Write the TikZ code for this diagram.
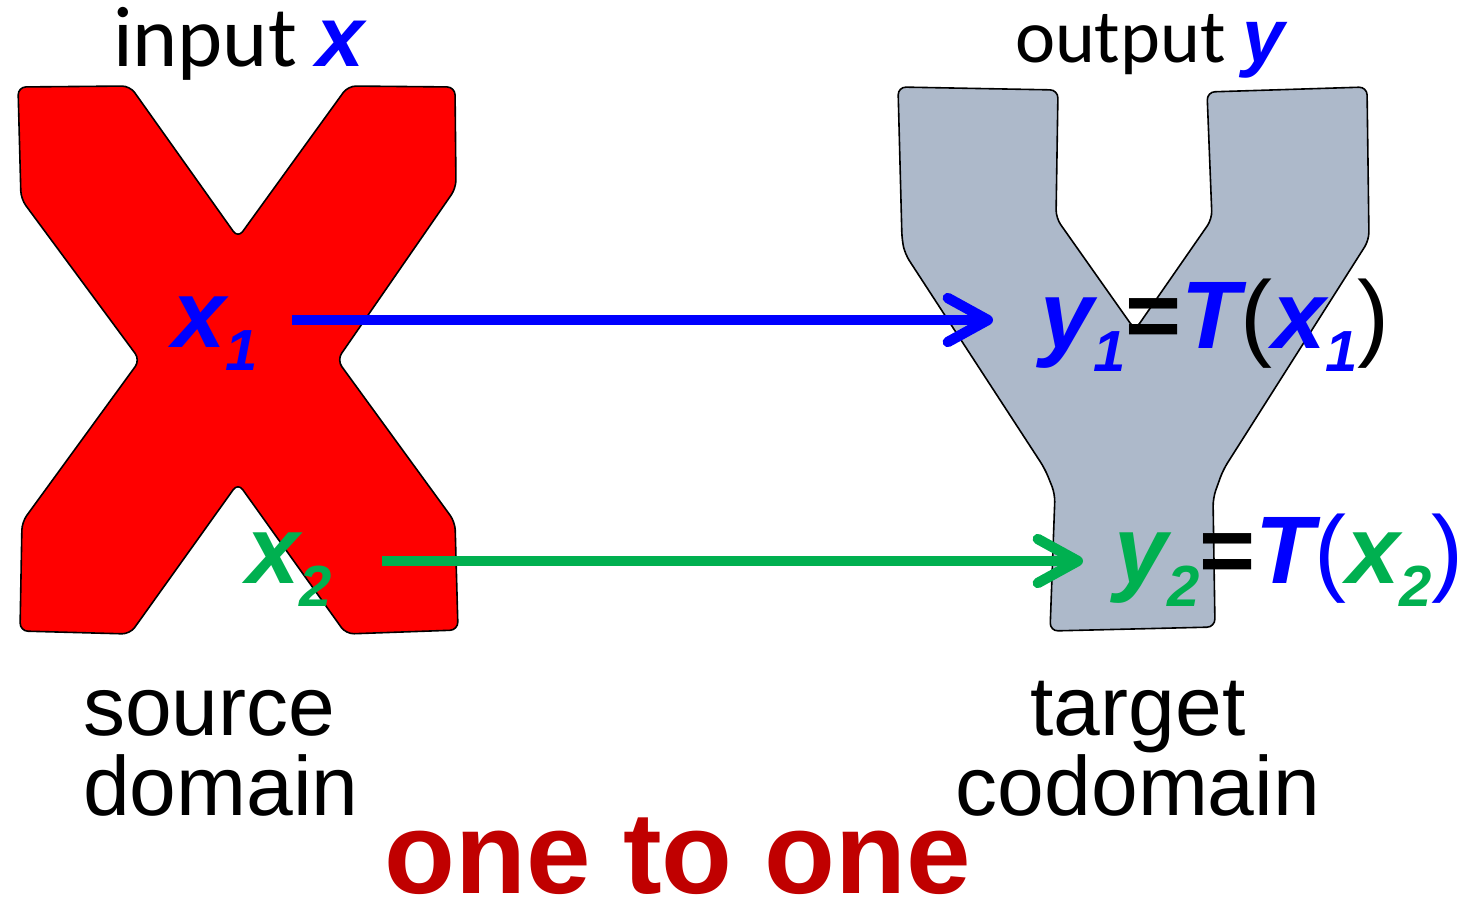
\documentclass[tikz,border=0pt]{standalone}
\usepackage{fontspec}
\setmainfont{Liberation Sans}
\newfontfamily\calfont{Carlito}
\usetikzlibrary{arrows.meta}
\definecolor{sheetred}{HTML}{FF0000}
\definecolor{sheetgrey}{HTML}{ADB9CA}
\definecolor{mapgreen}{HTML}{00B050}
\definecolor{mapblue}{HTML}{0000FF}
\definecolor{titlered}{HTML}{C00000}
% bold italic / regular switches and a lowered index
\newcommand\bi{\bfseries\itshape}
\newcommand\rg{\mdseries\upshape}
\newcommand\lowsub[1]{\raisebox{-11.5pt}{\fontsize{29}{29}\selectfont #1}}
\tikzset{
  blob/.style={draw=black, line width=0.8pt, line join=round, rounded corners=4pt},
  lbl/.style={inner sep=0pt, outer sep=0pt, anchor=base west},
  caption/.style={inner sep=0pt, outer sep=0pt, align=left, font=\fontsize{42}{40}\selectfont},
  maparrow/.style={line width=5.2pt, -{Straight Barb[length=20pt,width=22pt,round]}},
}
\begin{document}
\begin{tikzpicture}[x=0.5pt, y=-0.5pt]
\useasboundingbox (0,0) rectangle (1476,909);

% source shape
\draw[blob, fill=sheetred]
  (18,87) -- (130,86) -- (238,238) -- (348,86) -- (455,87) -- (456,188)
  -- (337,360) -- (455,522) -- (458,630) -- (346,634) -- (238,483)
  -- (130,634) -- (20,631) -- (22,522) -- (140,360) -- (21,199) -- cycle;

% target shape
\draw[blob, fill=sheetgrey]
  (898,87) -- (1058,90) -- (1056,218) -- (1135,330) -- (1212,219)
  -- (1207,92) -- (1367,87) -- (1369,240) -- (1223,470) -- (1213,498)
  -- (1215,627) -- (1050,631) -- (1055,494) -- (1045,469) -- (905,254)
  -- (902,240) -- cycle;

% headings
\node[lbl] (inp) at (113,67) {\fontsize{43}{43}\selectfont\calfont input \normalfont\color{mapblue}\bi x};
\node[lbl] (outp) at (1015,63) {\fontsize{38}{38}\selectfont\calfont output \normalfont\color{mapblue}\bi y};

% points of the source
\node[lbl] (x1) at (172,347) {\fontsize{48}{48}\selectfont\color{mapblue}\bi x\lowsub{1}};
\node[lbl] (x2) at (246,583) {\fontsize{48}{48}\selectfont\color{mapgreen}\bi x\lowsub{2}};

% images in the target
\node[lbl] (y1) at (1040,348) {\fontsize{48}{48}\selectfont
  \color{mapblue}\bi y\lowsub{1}\color{black}\bfseries\upshape =\color{mapblue}\bi T\color{black}\rg(\color{mapblue}\bi x\lowsub{1}\color{black}\rg)};
\node[lbl] (y2) at (1114,583) {\fontsize{48}{48}\selectfont
  \color{mapgreen}\bi y\lowsub{2}\color{black}\bfseries\upshape =\color{mapblue}\bi T\rg(\color{mapgreen}\bi x\lowsub{2}\color{mapblue}\rg)};

% mapping arrows
\coordinate (a1) at (292,320);
\coordinate (b1) at (993,320);
\coordinate (a2) at (382,561);
\coordinate (b2) at (1083,561);
\draw[maparrow, mapblue] (a1) -- (b1);
\draw[maparrow, mapgreen] (a2) -- (b2);

% captions (base anchor sits on the last line)
\node[caption, anchor=base west] (src) at (83,815) {source\\domain};
\node[caption, anchor=base, align=center] (tgt) at (1138,815) {target\\codomain};

\node[inner sep=0pt, anchor=base, text=titlered, font=\fontsize{58}{58}\selectfont\bfseries] (oto) at (678,893) {one to one};
\end{tikzpicture}
\end{document}
